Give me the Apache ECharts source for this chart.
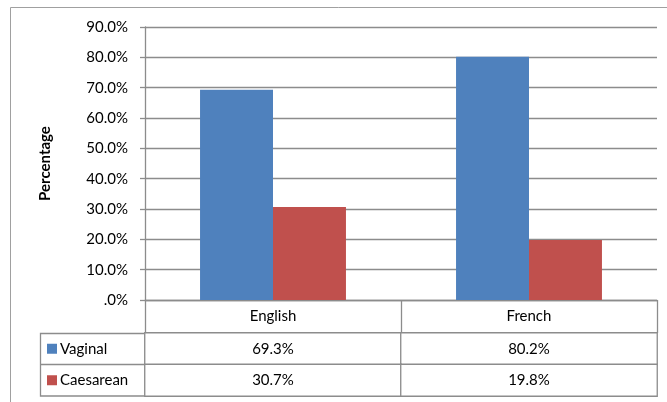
<!DOCTYPE html>
<html>
<head>
<meta charset="utf-8">
<script src="https://cdn.jsdelivr.net/npm/echarts@6/dist/echarts.min.js"></script>
<style>
  html, body { margin: 0; padding: 0; background: #fff; }
  #chart { width: 667px; height: 402px; }
</style>
</head>
<body>
<div id="chart"></div>
<script>
// Delivery method by language group (percent)
const categories = ['English', 'French'];
const seriesNames = ['Vaginal', 'Caesarean'];
const vaginal = [69.3, 80.2];
const caesarean = [30.7, 19.8];
const yTicks = [0, 10, 20, 30, 40, 50, 60, 70, 80, 90];

const colors = ['#4F81BD', '#C0504D'];
const gridColor = '#8c8c8c';
const font = 'Lato, "Liberation Sans", sans-serif';
const fs = 15;

// Cells of the data table: [column, row, value]
const tableCells = [];
[vaginal, caesarean].forEach((arr, row) => {
  arr.forEach((v, col) => tableCells.push([col, row, v]));
});

const fmtPct = v => (v === 0 ? '.0%' : v.toFixed(1) + '%');

const chart = echarts.init(document.getElementById('chart'), null, { renderer: 'canvas' });

chart.setOption({
  animation: false,
  backgroundColor: '#fff',
  textStyle: { fontFamily: font },
  grid: [
    { left: 145, right: 10, top: 27, bottom: 102 },
    { left: 145, right: 10, top: 333, bottom: 6 }
  ],
  xAxis: [
    {
      gridIndex: 0,
      type: 'category',
      data: categories,
      axisLine: { show: true, lineStyle: { color: gridColor, width: 1.3 } },
      axisTick: { show: true, length: 33, inside: false, lineStyle: { color: gridColor, width: 1.3 } },
      axisLabel: { color: '#000', fontSize: fs, fontFamily: font, margin: 9 }
    },
    {
      gridIndex: 1,
      type: 'category',
      data: categories,
      axisLine: { show: false },
      axisTick: { show: false },
      axisLabel: { show: false }
    }
  ],
  yAxis: [
    {
      gridIndex: 0,
      type: 'value',
      min: 0,
      max: 90,
      interval: 10,
      name: 'Percentage',
      nameLocation: 'middle',
      nameGap: 92,
      nameRotate: 90,
      nameTextStyle: { color: '#000', fontSize: fs, fontWeight: 'bold', fontFamily: font },
      axisLine: { show: true, lineStyle: { color: gridColor, width: 1.3 } },
      axisTick: { show: true, length: 5, lineStyle: { color: gridColor, width: 1.3 } },
      axisLabel: {
        color: '#000',
        fontSize: fs,
        fontFamily: font,
        margin: 17,
        formatter: v => (yTicks.includes(v) ? fmtPct(v) : '')
      },
      splitLine: { show: true, lineStyle: { color: gridColor, width: 1.3 } }
    },
    {
      gridIndex: 1,
      type: 'category',
      data: seriesNames,
      inverse: true,
      axisLine: { show: false },
      axisTick: { show: false },
      axisLabel: {
        align: 'left',
        margin: 98,
        formatter: (v, i) => '{k' + i + '|}{t|' + v + '}',
        rich: {
          k0: { width: 10, height: 10, backgroundColor: colors[0] },
          k1: { width: 10, height: 10, backgroundColor: colors[1] },
          t: { color: '#000', fontSize: fs, fontFamily: font, padding: [0, 0, 0, 3] }
        }
      }
    }
  ],
  series: [
    {
      name: seriesNames[0],
      type: 'bar',
      xAxisIndex: 0,
      yAxisIndex: 0,
      data: vaginal,
      barGap: '0%',
      barCategoryGap: '43%',
      itemStyle: { color: colors[0] }
    },
    {
      name: seriesNames[1],
      type: 'bar',
      xAxisIndex: 0,
      yAxisIndex: 0,
      data: caesarean,
      itemStyle: { color: colors[1] }
    },
    {
      type: 'heatmap',
      xAxisIndex: 1,
      yAxisIndex: 1,
      data: tableCells,
      itemStyle: { color: '#fff', borderColor: gridColor, borderWidth: 1.3 },
      label: {
        show: true,
        color: '#000',
        fontSize: fs,
        fontFamily: font,
        formatter: p => p.value[2].toFixed(1) + '%'
      },
      emphasis: { disabled: true }
    }
  ],
  graphic: [
    // outer chart frame (left and top edges)
    { type: 'line', shape: { x1: 10.5, y1: 7.5, x2: 10.5, y2: 402 }, style: { stroke: '#a0a0a0', lineWidth: 1 } },
    { type: 'line', shape: { x1: 10.5, y1: 7.5, x2: 667, y2: 7.5 }, style: { stroke: '#a0a0a0', lineWidth: 1 } },
    // legend-key column of the data table
    { type: 'rect', shape: { x: 40.5, y: 333.5, width: 104.5, height: 62.5 }, style: { fill: 'none', stroke: gridColor, lineWidth: 1.3 } },
    { type: 'line', shape: { x1: 40.5, y1: 364.5, x2: 145, y2: 364.5 }, style: { stroke: gridColor, lineWidth: 1.3 } }
  ]
});
</script>
</body>
</html>
